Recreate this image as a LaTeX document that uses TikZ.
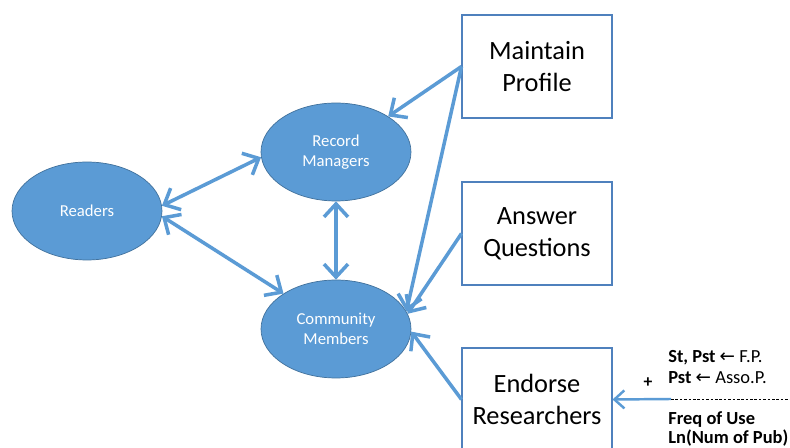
\documentclass[tikz,border=0pt]{standalone}
\usepackage{fontspec}
\setmainfont{Carlito}
\newfontfamily\symfont{DejaVu Sans}
\usetikzlibrary{arrows.meta,shapes.geometric}
\definecolor{rolefill}{RGB}{91, 155, 213}
\definecolor{roledraw}{RGB}{65, 113, 156}
\definecolor{linkblue}{RGB}{91, 155, 213}
\definecolor{taskdraw}{RGB}{79, 129, 189}

\begin{document}
\begin{tikzpicture}[
    x=0.02cm, y=-0.02cm,
    role/.style={ellipse, draw=roledraw, fill=rolefill, text=white, minimum width=3cm, minimum height=1.96cm, align=center, font=\fontsize{9.5}{11.5}\selectfont, inner sep=0pt},
    task/.style={rectangle, draw=taskdraw, fill=white, minimum width=3cm, minimum height=2.06cm, align=center, font=\fontsize{15}{18}\selectfont, line width=0.6pt},
    note/.style={anchor=west, inner sep=0pt, font=\fontsize{10.5}{12}\selectfont},
    link/.style={line width=2pt, color=linkblue, arrows={-Straight Barb[length=2.6mm, width=4.8mm]}},
    twoway/.style={link, arrows={Straight Barb[length=2.6mm, width=4.8mm]-Straight Barb[length=2.6mm, width=4.8mm]}}
]
    \clip (0,0) rectangle (790,448);

    % Roles
    \node[role] (readers) at (87,211) {Readers};
    \node[role] (recmgr) at (336,152) {Record\\Managers};
    \node[role] (commem) at (336,329) {Community\\Members};

    % Tasks
    \node[task] (profile) at (537,66.5) {Maintain\\Profile};
    \node[task] (answer) at (537,233.5) {Answer\\Questions};
    \node[task] (endorse) at (537,399.5) {Endorse\\Researchers};

    % Endorsement factors
    \node[note] (fp) at (668,358) {\textbf{St, Pst} {\symfont ←} F.P.};
    \node[note] (asso) at (668,378) {\textbf{Pst} {\symfont ←} Asso.P.};
    \coordinate (split) at (671,399);
    \coordinate (splitend) at (790,399);
    \node[note] (freq) at (668,420) {\textbf{Freq of Use}};
    \node[note] (numpub) at (668,438) {\textbf{Ln(Num of Pub)}};
    \node[font=\bfseries\fontsize{10}{12}\selectfont] (plus) at (648,383) {+};

    % Connections
    \draw[twoway] (readers.4) -- (recmgr.-176);
    \draw[twoway] (readers.-4) -- (commem.146);
    \draw[twoway] (recmgr) -- (commem);
    \draw[link] (profile.west) -- (recmgr);
    \draw[link] (profile.west) -- (commem.14);
    \draw[link] (answer.west) -- (commem.12);
    \draw[link] (endorse.west) -- (commem.-2);
    \draw[line width=1.4pt, color=linkblue, arrows={-Straight Barb[length=2mm, width=3.6mm]}] (split) -- (endorse.east);
    \draw[line width=0.4pt, dash pattern=on 1.5pt off 1pt] (split) -- (splitend);
\end{tikzpicture}
\end{document}
